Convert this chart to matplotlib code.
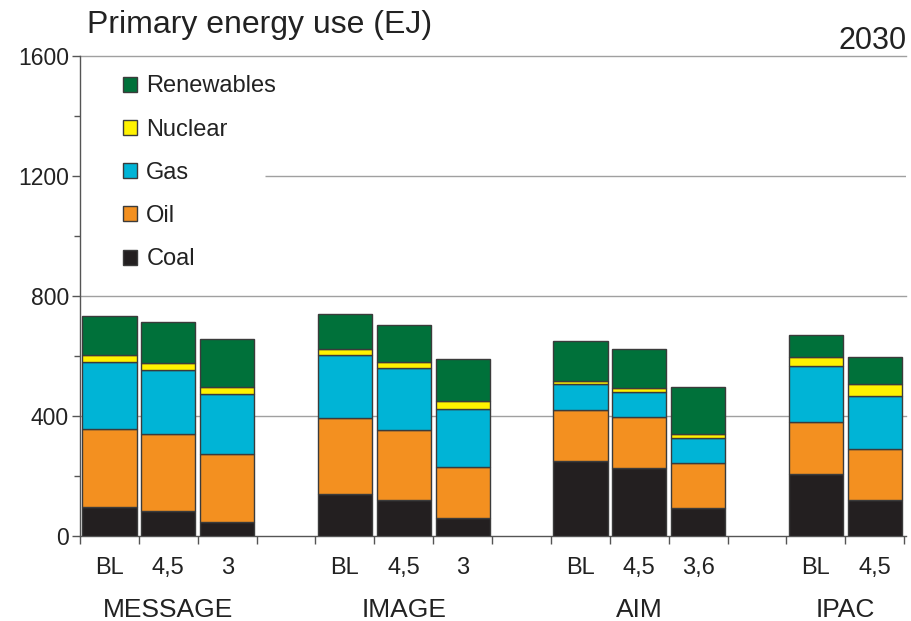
import numpy as np
import matplotlib.pyplot as plt
from matplotlib import font_manager
from matplotlib.transforms import blended_transform_factory

models = ["MESSAGE", "IMAGE", "AIM", "IPAC"]
scenarios = [["BL", "4,5", "3"], ["BL", "4,5", "3"], ["BL", "4,5", "3,6"], ["BL", "4,5"]]

fuels = ["Coal", "Oil", "Gas", "Nuclear", "Renewables"]
coal = [98, 84, 48, 139, 120, 59, 250, 226, 92, 207, 120]
oil = [259, 256, 226, 255, 233, 170, 170, 170, 150, 174, 170]
gas = [224, 213, 199, 209, 206, 193, 86, 85, 84, 187, 177]
nuclear = [22, 25, 25, 20, 22, 29, 12, 11, 14, 28, 39]
renewables = [130, 135, 160, 116, 122, 138, 133, 131, 156, 74, 90]

colors = {
  "Coal": "#231f20",
  "Oil": "#f39020",
  "Gas": "#00b4d6",
  "Nuclear": "#fff200",
  "Renewables": "#00713a",
}
edge = "#3b3b3b"
grid_color = "#a0a0a0"
text_color = "#222222"

names = {f.name for f in font_manager.fontManager.ttflist}
base_font = "Liberation Sans" if "Liberation Sans" in names else "DejaVu Sans"
narrow_font = "Liberation Sans Narrow" if "Liberation Sans Narrow" in names else base_font
plt.rcParams["font.family"] = [base_font, "DejaVu Sans"]

# bar positions: one slot per bar, an empty slot between models
positions = []
group_centers = []
slot = 0
for labels in scenarios:
  start = slot
  for _ in labels:
    positions.append(slot + 0.5)
    slot += 1
  group_centers.append((start + slot) / 2)
  slot += 1
n_slots = slot - 1
positions = np.array(positions)

fig = plt.figure(figsize=(9.11, 6.21), dpi=100)
ax = fig.add_axes([80 / 911, 85 / 621, 826 / 911, 480 / 621])

series = {"Coal": coal, "Oil": oil, "Gas": gas, "Nuclear": nuclear, "Renewables": renewables}
bottom = np.zeros(len(positions))
handles = {}
for fuel in fuels:
  vals = np.array(series[fuel], dtype=float)
  handles[fuel] = ax.bar(positions, vals, bottom=bottom, width=0.92, color=colors[fuel],
                         edgecolor=edge, linewidth=1.0, zorder=3)
  bottom += vals

ax.set_xlim(0, n_slots + 0.03)
ax.set_ylim(0, 1600)

# grid lines (the 1200 line is broken by the legend)
for y in [400, 800, 1600]:
  ax.axhline(y, color=grid_color, linewidth=1.0, zorder=1, clip_on=False)
ax.hlines(1200, 3.15, n_slots + 0.03, color=grid_color, linewidth=1.0, zorder=1)

ax.set_yticks([0, 400, 800, 1200, 1600])
ax.set_yticks([200, 600, 1000, 1400], minor=True)
ax.tick_params(axis="y", which="major", length=6, width=1, color="#555555",
               labelsize=16.5, labelcolor=text_color, pad=2)
ax.tick_params(axis="y", which="minor", length=4, width=1, color="#555555")

ax.set_xticks(np.arange(0, n_slots + 1))
ax.set_xticklabels([])
ax.tick_params(axis="x", which="major", length=6, width=1, color="#555555")

trans = blended_transform_factory(ax.transData, ax.transAxes)
sub_labels = [s for labels in scenarios for s in labels]
for x, lab in zip(positions, sub_labels):
  ax.text(x, -0.079, lab, transform=trans, ha="center", va="baseline",
          fontsize=17, family=narrow_font, color=text_color)
for name, cx in zip(models, group_centers):
  ax.text(cx, -0.169, name, transform=trans, ha="center", va="baseline",
          fontsize=19, family=narrow_font, color=text_color)

for side in ["top", "right"]:
  ax.spines[side].set_visible(False)
for side in ["left", "bottom"]:
  ax.spines[side].set_color("#555555")
  ax.spines[side].set_linewidth(1.0)

leg = ax.legend([handles[f] for f in fuels[::-1]], fuels[::-1], loc="upper left",
                bbox_to_anchor=(0.026, 1.004), frameon=False, fontsize=17,
                handlelength=0.6, handleheight=0.6, handletextpad=0.4, labelspacing=0.9)
for t in leg.get_texts():
  t.set_color(text_color)

fig.text(87 / 911, 1 - 33 / 621, "Primary energy use (EJ)", ha="left", va="baseline",
         fontsize=23, color=text_color)
fig.text(907 / 911, 1 - 49 / 621, "2030", ha="right", va="baseline", fontsize=22, color=text_color)

fig.savefig("out.png", dpi=100)
